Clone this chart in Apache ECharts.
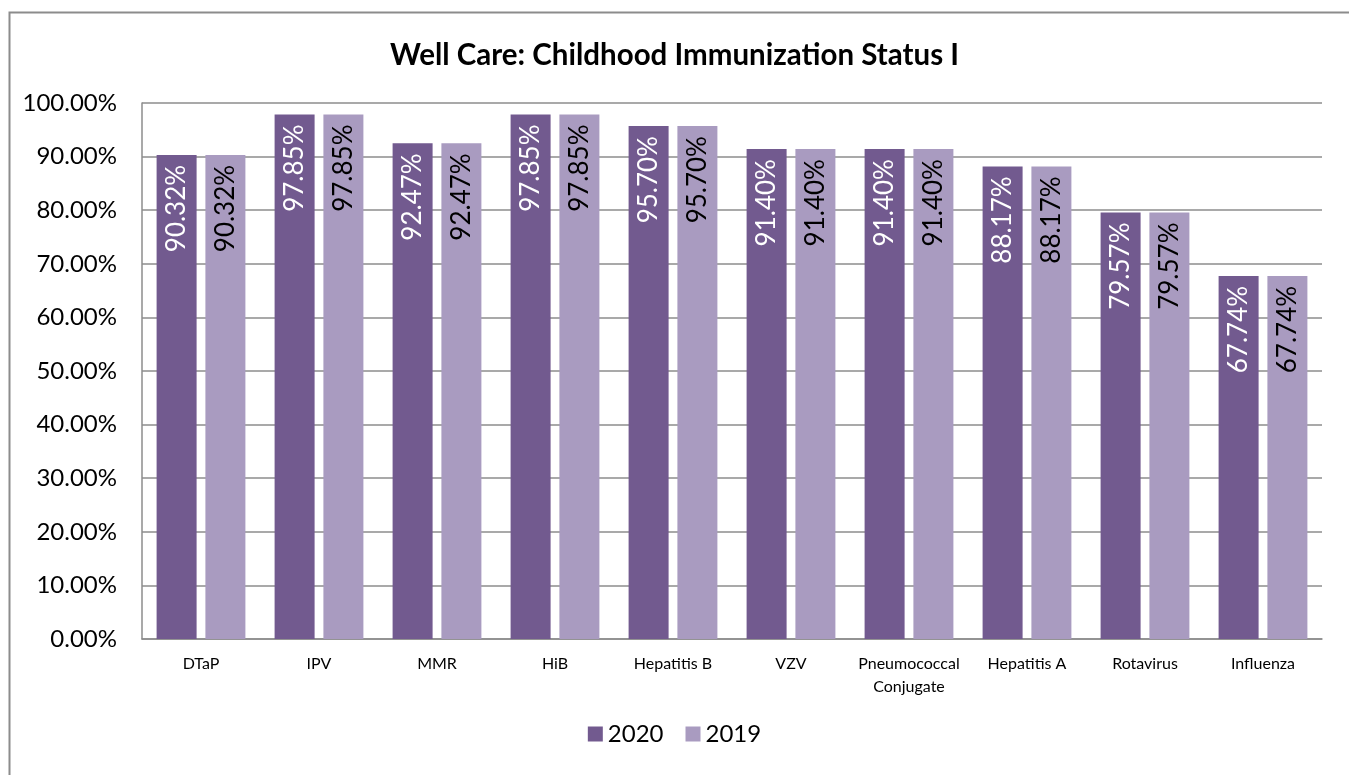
<!DOCTYPE html>
<html>
<head>
<meta charset="utf-8">
<script src="https://cdn.jsdelivr.net/npm/echarts@6/dist/echarts.min.js"></script>
<style>
html,body{margin:0;padding:0;background:#fff;}
#c{width:1349px;height:775px;}
</style>
</head>
<body>
<div id="c"></div>
<script>
const categories = ['DTaP','IPV','MMR','HiB','Hepatitis B','VZV','Pneumococcal\nConjugate','Hepatitis A','Rotavirus','Influenza'];
const values2020 = [90.32, 97.85, 92.47, 97.85, 95.70, 91.40, 91.40, 88.17, 79.57, 67.74];
const values2019 = [90.32, 97.85, 92.47, 97.85, 95.70, 91.40, 91.40, 88.17, 79.57, 67.74];
const seriesNames = ['2020','2019'];
const yTicks = {min: 0, max: 100, interval: 10};

const FONT = 'Lato, "Open Sans", sans-serif';
const chart = echarts.init(document.getElementById('c'));
const lbl = (color) => ({
  show: true,
  position: 'insideTop',
  distance: 10,
  rotate: 90,
  align: 'right',
  verticalAlign: 'middle',
  color: color,
  fontFamily: FONT,
  fontSize: 26,
  formatter: p => p.value.toFixed(2) + '%'
});
chart.setOption({
  animation: false,
  backgroundColor: '#fff',
  graphic: [{
    type: 'rect', left: 7, top: 10, silent: true,
    shape: {width: 1400, height: 800},
    style: {fill: 'none', stroke: '#8c8c8c', lineWidth: 2}
  }],
  title: {
    text: 'Well Care: Childhood Immunization Status I',
    left: 'center', top: 35,
    textStyle: {fontFamily: FONT, fontSize: 29.5, fontWeight: 'bold', color: '#000'}
  },
  legend: {
    data: seriesNames,
    bottom: 24, left: 'center',
    itemWidth: 15, itemHeight: 15, itemGap: 22,
    icon: 'rect',
    textStyle: {fontFamily: FONT, fontSize: 24, color: '#000'}
  },
  grid: {left: 142, right: 27, top: 103, bottom: 136, containLabel: false},
  xAxis: {
    type: 'category',
    data: categories,
    axisLine: {show: true, lineStyle: {color: '#8c8c8c', width: 1.5}},
    axisTick: {show: false},
    axisLabel: {fontFamily: FONT, fontSize: 16, color: '#000', margin: 13, lineHeight: 23, interval: 0}
  },
  yAxis: {
    type: 'value',
    min: yTicks.min, max: yTicks.max, interval: yTicks.interval,
    axisLine: {show: true, lineStyle: {color: '#8c8c8c', width: 1.5}},
    axisTick: {show: false},
    splitLine: {lineStyle: {color: '#8c8c8c', width: 1.5}},
    axisLabel: {fontFamily: FONT, fontSize: 24, color: '#000', margin: 25,
      formatter: v => v.toFixed(2) + '%'}
  },
  series: [
    {name: seriesNames[0], type: 'bar', data: values2020, barWidth: 40, barGap: '22%',
      itemStyle: {color: '#725A8F'}, label: lbl('#ffffff')},
    {name: seriesNames[1], type: 'bar', data: values2019, barWidth: 40,
      itemStyle: {color: '#A99BC0'}, label: lbl('#000000')}
  ]
});
</script>
</body>
</html>
